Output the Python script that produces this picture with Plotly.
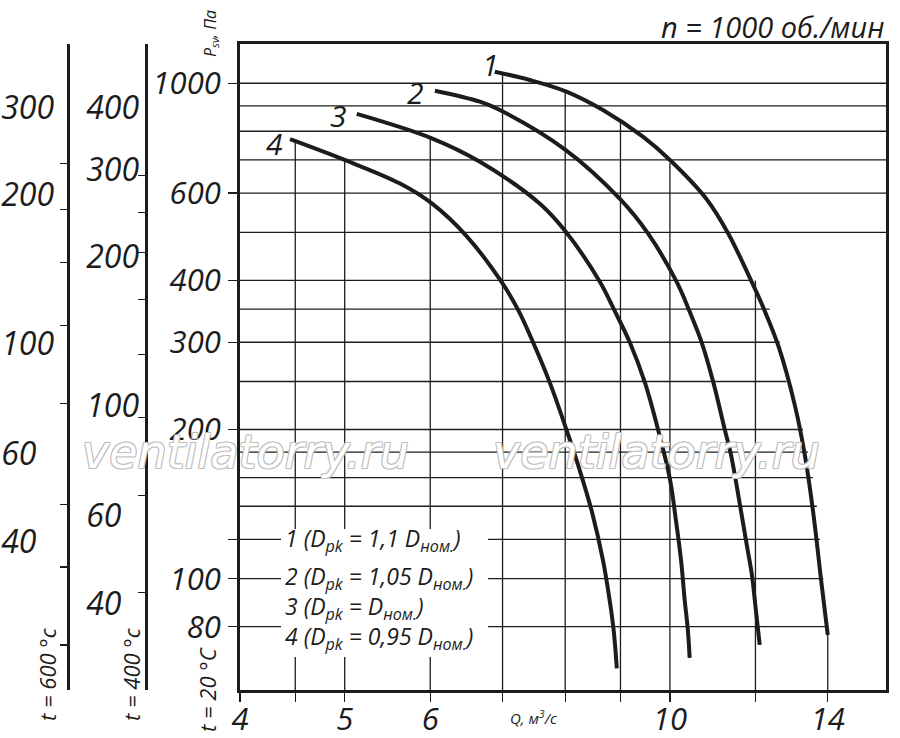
import math
import plotly.graph_objects as go

# ---------------- data ----------------
Q1 = [6.885, 7.42, 8.02, 8.67, 9.44, 10.00, 10.81, 11.32, 11.90, 12.24, 12.61, 13.05, 13.33, 13.56, 13.82, 14.00]
P1 = [1055, 1015, 962, 883, 780, 700, 584, 498, 398, 347, 293.5, 224, 178, 138, 97.1, 77]

Q2 = [6.06, 6.67, 6.96, 8.01, 8.99, 9.54, 10.14, 10.43, 10.70, 10.97, 11.24, 11.39, 11.61, 11.78, 11.91, 12.01, 12.11]
P2 = [966, 918, 883, 733, 584, 498, 398, 346, 300, 249, 200, 178, 141, 117, 101.7, 86.5, 73.5]

Q3 = [5.13, 6.02, 6.67, 7.58, 8.00, 8.61, 8.89, 9.18, 9.48, 9.75, 10.00, 10.13, 10.24, 10.32, 10.39, 10.43]
P3 = [867, 774, 694, 571, 503, 398, 347, 300, 249, 200, 159, 131, 109, 90.6, 78.8, 69.2]

Q4 = [4.45, 5.00, 5.62, 6.02, 6.48, 6.98, 7.24, 7.47, 7.74, 8.02, 8.25, 8.47, 8.67, 8.78, 8.87, 8.93]
P4 = [771, 700, 628, 572, 492, 398, 348, 300, 249, 200, 165.7, 136.3, 109, 92.7, 78.8, 65.9]

CURVE_NAMES = ["1", "2", "3", "4"]
LEGEND_LINES = [
    "1 (D<sub>pk</sub> = 1,1 D<sub>ном.</sub>)",
    "2 (D<sub>pk</sub> = 1,05 D<sub>ном.</sub>)",
    "3 (D<sub>pk</sub> = D<sub>ном.</sub>)",
    "4 (D<sub>pk</sub> = 0,95 D<sub>ном.</sub>)",
]

X_TICKS = [4, 4.5, 5, 6, 7, 8, 9, 10, 12, 14]
X_TICK_TEXT = ["4", "", "5", "6", "", "", "", "10", "", "14"]
Y_TICKS = [80, 100, 120, 200, 300, 400, 600, 1000]
Y_TICK_TEXT = ["80", "100", "", "200", "300", "400", "600", "1000"]

H_GRID_FULL = [1000, 900, 800, 700, 600, 500]
H_GRID_PART = [400, 350, 300, 250, 200, 180, 160, 140, 120, 100, 80]
H_GRID_PART_END = [11.9, 12.37, 12.64, 12.82, 13.28, 13.42, 13.56, 13.68, 13.77, 13.87, 13.96]
V_GRID = [4.5, 5, 6, 7, 8, 9, 10, 12, 14]
V_GRID_TOP = [762, 697, 774, 1048, 962, 837, 690, 400, 77]

RATIO_400 = 0.4486
RATIO_600 = 0.3364
T400_TICKS = [292, 246, 204, 164, 127, 95, 66, 42]
T400_LABELS = [400, 300, 200, 100, 60, 40]
T600_TICKS = [232, 187, 146, 109, 76, 47.5, 35.5, 24.7]
T600_LABELS = [300, 200, 100, 60, 40]

Q_RANGE = (4.0, 15.85)
P_RANGE = (59.6, 1200)

TITLE = "n = 1000 об./мин"
X_TITLE = "Q, м<sup>3</sup>/с"
Y_TITLE = "P<sub>sv</sub>, Па"
WATERMARK = "ventilatorry.ru"

# ---------------- layout geometry / styles ----------------
W, H = 900, 738
ML, MR, MT, MB = 0, 14, 44, 48
PW = W - ML - MR
PH = H - MT - MB
AX_LEFT_PX = 240
INK = "#1c1c1c"
FONT = "Open Sans"


def px_x(px):
    return (px - ML) / PW


def px_y(py):
    return (H - MB - py) / PH


fig = go.Figure()

# grid lines (drawn through data axes)
gx, gy = [], []
for v in H_GRID_FULL:
    gx += [Q_RANGE[0], Q_RANGE[1], None]
    gy += [v, v, None]
for v, e in zip(H_GRID_PART, H_GRID_PART_END):
    gx += [Q_RANGE[0], e, None]
    gy += [v, v, None]
for v, t in zip(V_GRID, V_GRID_TOP):
    gx += [v, v, None]
    gy += [P_RANGE[0], t, None]
fig.add_trace(go.Scatter(x=gx, y=gy, mode="lines", line=dict(color=INK, width=1.3),
                         hoverinfo="skip", showlegend=False))

# curves
for q, p in [(Q1, P1), (Q2, P2), (Q3, P3), (Q4, P4)]:
    fig.add_trace(go.Scatter(x=q, y=p, mode="lines",
                             line=dict(color=INK, width=4, shape="spline", smoothing=1.0),
                             hoverinfo="skip", showlegend=False))

# dummy traces to activate auxiliary axes
for ax in ["y2", "y3", "y4", "y5"]:
    fig.add_trace(go.Scatter(x=[None], y=[None], yaxis=ax, showlegend=False, hoverinfo="skip"))

lr = [math.log10(P_RANGE[0]), math.log10(P_RANGE[1])]
it_main = dict(family=FONT, size=31, color=INK, style="italic")
it_aux = dict(family=FONT, size=32, color=INK, style="italic")

fig.update_layout(
    width=W, height=H,
    margin=dict(l=ML, r=MR, t=MT, b=MB, autoexpand=False),
    paper_bgcolor="white", plot_bgcolor="white",
    showlegend=False, hovermode=False,
    font=dict(family=FONT, color=INK),
    xaxis=dict(type="log", range=[math.log10(Q_RANGE[0]), math.log10(Q_RANGE[1])],
               domain=[px_x(AX_LEFT_PX), 1.0],
               tickmode="array", tickvals=X_TICKS, ticktext=X_TICK_TEXT,
               ticks="outside", ticklen=9, tickwidth=1.3, tickcolor=INK,
               showline=True, linewidth=3, linecolor=INK, mirror=True,
               showgrid=False, zeroline=False,
               tickfont=dict(family=FONT, size=31, color=INK, style="italic"),
               ticklabelstandoff=-9, automargin=False),
    yaxis=dict(type="log", range=lr,
               tickmode="array", tickvals=Y_TICKS, ticktext=Y_TICK_TEXT,
               ticks="outside", ticklen=9, tickwidth=1.3, tickcolor=INK,
               showline=True, linewidth=3, linecolor=INK, mirror=True,
               showgrid=False, zeroline=False, tickfont=it_main, ticklabelstandoff=1,
               automargin=False),
    yaxis2=dict(type="log", overlaying="y", anchor="free", side="left", position=px_x(146),
                range=[v + math.log10(RATIO_400) for v in lr],
                tickmode="array", tickvals=T400_TICKS, showticklabels=False,
                ticks="outside", ticklen=7, tickwidth=1.3, tickcolor=INK,
                showline=True, linewidth=3, linecolor=INK, showgrid=False, zeroline=False,
                automargin=False),
    yaxis3=dict(type="log", overlaying="y", anchor="free", side="left", position=px_x(146),
                range=[v + math.log10(RATIO_400) for v in lr],
                tickmode="array", tickvals=T400_LABELS,
                ticktext=[f"{v}" if v >= 100 else f"{v}\u2007" for v in T400_LABELS],
                ticks="", showline=False, showgrid=False, zeroline=False,
                tickfont=it_aux, ticklabelstandoff=7, automargin=False),
    yaxis4=dict(type="log", overlaying="y", anchor="free", side="left", position=px_x(68),
                range=[v + math.log10(RATIO_600) for v in lr],
                tickmode="array", tickvals=T600_TICKS, showticklabels=False,
                ticks="outside", ticklen=7, tickwidth=1.3, tickcolor=INK,
                showline=True, linewidth=3, linecolor=INK, showgrid=False, zeroline=False,
                automargin=False),
    yaxis5=dict(type="log", overlaying="y", anchor="free", side="left", position=px_x(68),
                range=[v + math.log10(RATIO_600) for v in lr],
                tickmode="array", tickvals=T600_LABELS,
                ticktext=[f"{v}" if v >= 100 else f"{v}\u2007" for v in T600_LABELS],
                ticks="", showline=False, showgrid=False, zeroline=False,
                tickfont=it_aux, ticklabelstandoff=14, automargin=False),
)

# white box behind the legend text
fig.add_shape(type="rect", xref="paper", yref="paper",
              x0=px_x(281), x1=px_x(488), y0=px_y(657), y1=px_y(529),
              fillcolor="white", line=dict(width=0), layer="above")

ann = []
# curve number labels next to the curve starts
label_offsets = [(6, 7), (-9, -2), (-8, -2), (-5, -4)]
for name, q, p, (dx, dy) in zip(CURVE_NAMES, [Q1, Q2, Q3, Q4], [P1, P2, P3, P4], label_offsets):
    ann.append(dict(x=math.log10(q[0]), y=math.log10(p[0]), xref="x", yref="y",
                    text=f"<i>{name}</i>", showarrow=False, xanchor="right", yanchor="middle",
                    xshift=dx, yshift=dy, font=dict(family=FONT, size=30, color=INK)))

# legend lines
legend_y = [539, 577, 607, 637]
for txt, yy in zip(LEGEND_LINES, legend_y):
    ann.append(dict(x=px_x(283), y=px_y(yy), xref="paper", yref="paper", text=f"<i>{txt}</i>",
                    showarrow=False, xanchor="left", yanchor="middle",
                    font=dict(family=FONT, size=23, color=INK)))

# titles
ann.append(dict(x=1.0, y=px_y(27), xref="paper", yref="paper", text=f"<i>{TITLE}</i>",
                showarrow=False, xanchor="right", yanchor="middle",
                font=dict(family=FONT, size=29, color=INK)))
ann.append(dict(x=px_x(533), y=px_y(717), xref="paper", yref="paper", text=f"<i>{X_TITLE}</i>",
                showarrow=False, xanchor="center", yanchor="middle",
                font=dict(family=FONT, size=15, color=INK)))
ann.append(dict(x=px_x(210), y=px_y(34), xref="paper", yref="paper", text=f"<i>{Y_TITLE}</i>",
                showarrow=False, xanchor="center", yanchor="middle", textangle=-90,
                font=dict(family=FONT, size=16, color=INK)))
for txt, xx, yy in [("t = 600 °c", 47, 674), ("t = 400 °c", 131, 674), ("t = 20 °C", 207, 690)]:
    ann.append(dict(x=px_x(xx), y=px_y(yy), xref="paper", yref="paper", text=f"<i>{txt}</i>",
                    showarrow=False, xanchor="center", yanchor="middle", textangle=-90,
                    font=dict(family=FONT, size=22, color=INK)))

# watermarks
wm_shadow = "-1px -1px 0 #bdbdbd, 1px -1px 0 #bdbdbd, -1px 1px 0 #bdbdbd, 1px 1px 0 #bdbdbd"
for xx in [245, 656]:
    ann.append(dict(x=px_x(xx), y=px_y(452), xref="paper", yref="paper", text=f"<i>{WATERMARK}</i>",
                    showarrow=False, xanchor="center", yanchor="middle",
                    font=dict(family="DejaVu Sans", size=46, color="white", shadow=wm_shadow)))

fig.update_layout(annotations=ann)
fig.write_html("out.html", config={"displayModeBar": False, "staticPlot": True},
               post_script="document.body.style.margin='0px';document.body.style.padding='0px';")
